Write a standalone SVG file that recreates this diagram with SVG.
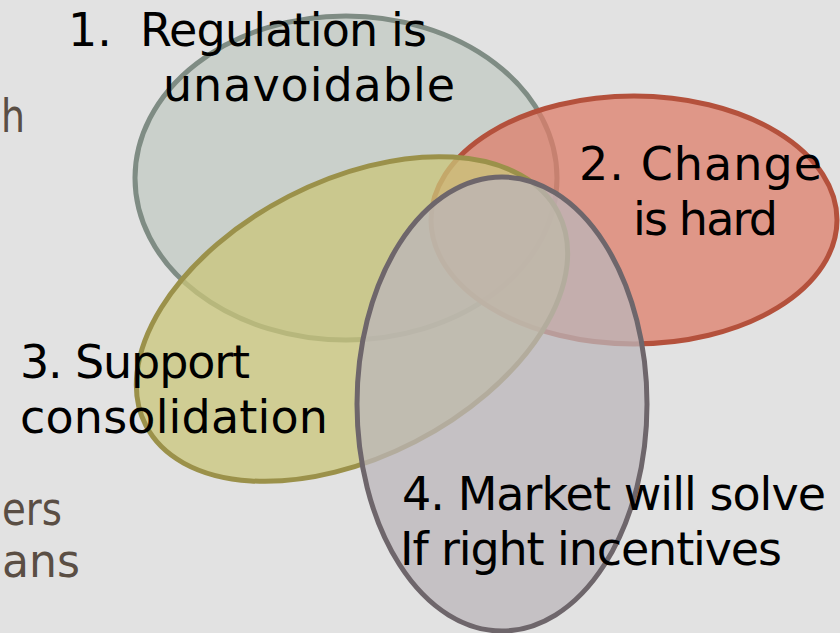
<svg xmlns="http://www.w3.org/2000/svg" width="840" height="633" viewBox="0 0 840 633">
<style>
.t{font-family:"DejaVu Sans","Liberation Sans",sans-serif;font-size:46px;fill:#000}
.s{font-family:"DejaVu Sans","Liberation Sans",sans-serif;font-size:46px;fill:#5a4e44}
.e{stroke-width:5;fill-opacity:0.75}
</style>
<rect width="840" height="633" fill="#e2e2e2"/>
<text class="s" x="1" y="132" textLength="24" lengthAdjust="spacingAndGlyphs">h</text>
<text class="s" x="2" y="525" textLength="60" lengthAdjust="spacingAndGlyphs">ers</text>
<text class="s" x="2" y="577" textLength="78" lengthAdjust="spacingAndGlyphs">ans</text>
<g id="node1"><ellipse class="e" cx="346" cy="178" rx="211" ry="162" fill="#c1c9c3" stroke="#7f8c84"/></g>
<g id="node2"><ellipse class="e" cx="634" cy="220" rx="203" ry="124" fill="#dd7e69" stroke="#b4513c"/></g>
<g id="node3"><ellipse class="e" cx="352" cy="319" rx="232" ry="138" transform="rotate(-27.3 352 319)" fill="#c9c579" stroke="#9b914a"/></g>
<g id="node4"><ellipse class="e" cx="502" cy="404" rx="145" ry="227" fill="#bbb5b9" stroke="#6e666b"/></g>
<g id="labels">
<text class="t" y="46"><tspan x="68">1.</tspan><tspan x="140" textLength="287">Regulation is</tspan></text>
<text class="t" x="163" y="101" textLength="292">unavoidable</text>
<text class="t" x="579" y="180" textLength="243">2. Change</text>
<text class="t" x="633" y="235" textLength="145">is hard</text>
<text class="t" x="20" y="378" textLength="230">3. Support</text>
<text class="t" x="20" y="433" textLength="308">consolidation</text>
<text class="t" x="402" y="510" textLength="424">4. Market will solve</text>
<text class="t" x="400" y="565" textLength="382">If right incentives</text>
</g>
</svg>
